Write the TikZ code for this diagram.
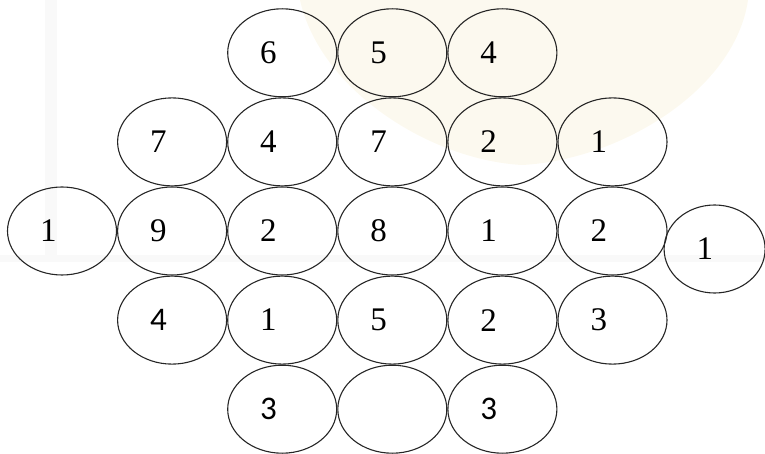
\documentclass[tikz,border=0pt]{standalone}
\usepackage{fontspec}
\setmainfont{Liberation Serif}
\newfontfamily\calibri{Carlito}
\usetikzlibrary{positioning,shapes.geometric}
\definecolor{rim}{HTML}{262626}
\definecolor{crest}{HTML}{FCF9EF}
\definecolor{haze}{HTML}{F9F9F9}

\begin{document}
\begin{tikzpicture}[
  x=1pt, y=-1pt,
  node distance=0pt,
  cell/.style={
    ellipse, draw=rim, line width=1.1pt,
    minimum width=109pt, minimum height=88pt, inner sep=0pt,
    text width=44pt, align=left, font=\fontsize{33}{33}\selectfont
  },
  sans/.style={font=\calibri\fontsize{33}{33}\selectfont}
]
  \useasboundingbox (0,0) rectangle (765,454);
  % faint watermark behind the grid
  \fill[haze] (45,0) rectangle (57,256);
  \fill[haze] (0,255) rectangle (765,262);
  \fill[crest] (300,0) .. controls (320,90) and (430,160) .. (522,165)
    .. controls (620,160) and (735,90) .. (748,0) -- cycle;

  % middle row
  \node[cell] at (62,231) (r3c0) {1};
  \node[cell, right=of r3c0] (r3c1) {9};
  \node[cell, right=of r3c1] (r3c2) {2};
  \node[cell, right=of r3c2] (r3c3) {8};
  \node[cell, right=of r3c3] (r3c4) {1};
  \node[cell, right=of r3c4] (r3c5) {2};
  \node[cell, minimum width=101pt, text width=36pt, right=-4pt of r3c5, yshift=-18pt] (r3c6) {1};
  % second row
  \node[cell, above=of r3c1] (r2c1) {7};
  \node[cell, right=of r2c1] (r2c2) {4};
  \node[cell, right=of r2c2] (r2c3) {7};
  \node[cell, right=of r2c3] (r2c4) {2};
  \node[cell, right=of r2c4] (r2c5) {1};
  % top row
  \node[cell, above=of r2c2] (r1c2) {6};
  \node[cell, right=of r1c2] (r1c3) {5};
  \node[cell, right=of r1c3] (r1c4) {4};
  % fourth row
  \node[cell, sans, below=of r3c1] (r4c1) {4};
  \node[cell, right=of r4c1] (r4c2) {1};
  \node[cell, right=of r4c2] (r4c3) {5};
  \node[cell, right=of r4c3] (r4c4) {2};
  \node[cell, right=of r4c4] (r4c5) {3};
  % bottom row
  \node[cell, sans, below=of r4c2] (r5c2) {3};
  \node[cell, right=of r5c2] (r5c3) {};
  \node[cell, sans, right=of r5c3] (r5c4) {3};
\end{tikzpicture}
\end{document}
